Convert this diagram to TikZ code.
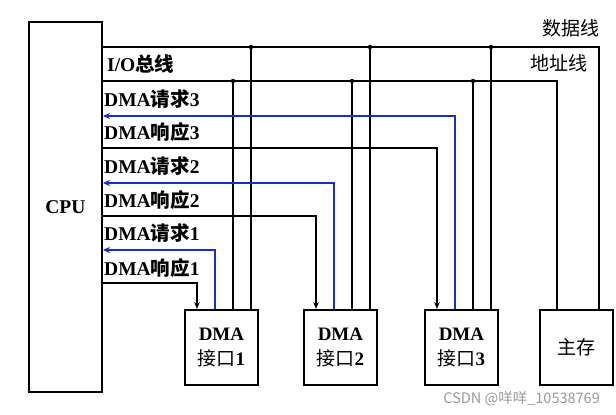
\documentclass[tikz,border=0pt]{standalone}
\usepackage{fontspec}
\setmainfont{Liberation Serif}
\newfontfamily\zh{Noto Sans CJK SC}
\usetikzlibrary{arrows.meta,calc}
\newcommand\zhb[1]{{\zh\bfseries #1}}
\newcommand\zhr[1]{{\zh #1}}
\definecolor{reqblue}{RGB}{25,45,205}
\begin{document}
\begin{tikzpicture}[x=1pt,y=-1pt,
  bus/.style={line width=1.9pt, black},
  req/.style={line width=2.3pt, reqblue, -{Stealth[length=7pt,width=6pt]}},
  ack/.style={line width=1.9pt, black, -{Stealth[length=7pt,width=5.5pt]}},
  unit/.style={draw, line width=1.9pt, minimum width=73pt, minimum height=75pt, anchor=north west, inner sep=0pt, align=center, font=\fontsize{19}{25}\selectfont},
  lbl/.style={anchor=west, inner sep=0pt, font=\fontsize{19.5}{21}\selectfont},
  dot/.style={circle, fill=black, inner sep=0pt, minimum size=4.5pt},
  nm/.style={inner sep=0pt, font=\fontsize{19}{21}\selectfont}]
\useasboundingbox (0,0) rectangle (616,415);

% boxes
\node[draw, line width=1.9pt, minimum width=73pt, minimum height=370pt, anchor=north west, inner sep=0pt,
      font=\bfseries\fontsize{19.5}{21}\selectfont] (cpu) at (28,21) {CPU\\[8pt]};
\node[unit] (dma1) at (184,309) {\textbf{DMA}\\\zhr{接口}\textbf{1}};
\node[unit] (dma2) at (303,309) {\textbf{DMA}\\\zhr{接口}\textbf{2}};
\node[unit] (dma3) at (424,309) {\textbf{DMA}\\\zhr{接口}\textbf{3}};
\node[unit] (mem) at (539,309) {\zhr{主存}};

% rows
\coordinate (yd) at (0,47);
\coordinate (ya) at (0,81);
\coordinate (r3) at (0,116);
\coordinate (a3) at (0,148);
\coordinate (r2) at (0,183);
\coordinate (a2) at (0,216);
\coordinate (r1) at (0,250);
\coordinate (a1) at (0,283);

% data and address lines to main memory
\draw[bus] ([xshift=60pt]mem.north west) |- (cpu.east |- yd);
\draw[bus] ([xshift=18pt]mem.north west) |- (cpu.east |- ya);

% taps of each DMA interface
\foreach \u in {dma1,dma2,dma3}{
  \coordinate (\u d) at ([xshift=67pt]\u.north west);
  \coordinate (\u a) at ([xshift=49pt]\u.north west);
  \draw[bus] (\u d) -- (\u d |- yd) node[dot]{};
  \draw[bus] (\u a) -- (\u a |- ya) node[dot]{};
}

% requests (blue) and acknowledges (black)
\draw[req] ([xshift=31pt]dma3.north west) |- (cpu.east |- r3);
\draw[req] ([xshift=31pt]dma2.north west) |- (cpu.east |- r2);
\draw[req] ([xshift=31pt]dma1.north west) |- (cpu.east |- r1);
\draw[ack] (cpu.east |- a3) -| ([xshift=13pt]dma3.north west);
\draw[ack] (cpu.east |- a2) -| ([xshift=13pt]dma2.north west);
\draw[ack] (cpu.east |- a1) -| ([xshift=13pt]dma1.north west);

% labels
\node[lbl] (lio) at (107,64) {\textbf{I/O}\zhb{总线}};
\node[lbl] (lr3) at (104,99) {\textbf{DMA}\zhb{请求}\textbf{3}};
\node[lbl] (la3) at (104,132) {\textbf{DMA}\zhb{响应}\textbf{3}};
\node[lbl] (lr2) at (104,166) {\textbf{DMA}\zhb{请求}\textbf{2}};
\node[lbl] (la2) at (104,200) {\textbf{DMA}\zhb{响应}\textbf{2}};
\node[lbl] (lr1) at (104,233) {\textbf{DMA}\zhb{请求}\textbf{1}};
\node[lbl] (la1) at (104,268) {\textbf{DMA}\zhb{响应}\textbf{1}};
\node[nm, anchor=east] (ldata) at (600,28) {\zhr{数据线}};
\node[nm, anchor=east] (laddr) at (588,63) {\zhr{地址线}};

% watermark
\node[anchor=east, inner sep=0pt, text=black!40, font=\zh\fontsize{14.5}{16}\selectfont] (wm) at (600,399) {CSDN @咩咩\_10538769};
\end{tikzpicture}
\end{document}
